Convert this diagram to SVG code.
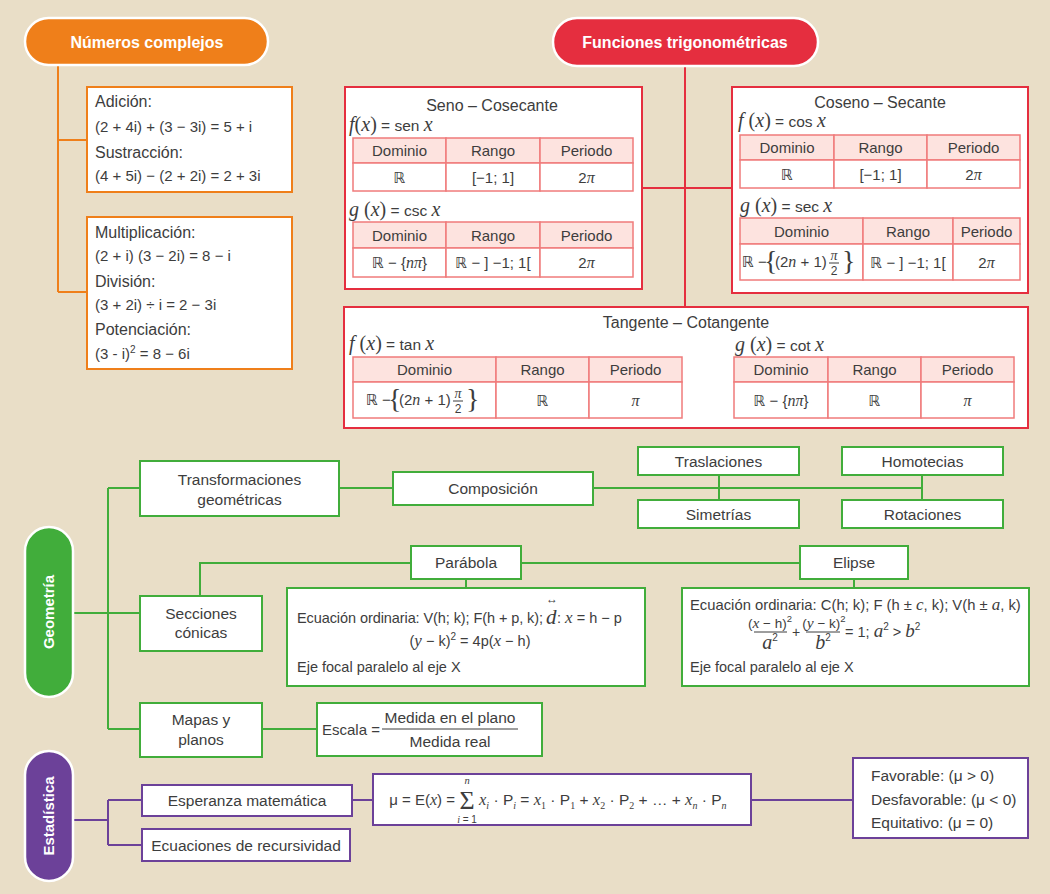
<svg xmlns="http://www.w3.org/2000/svg" xmlns:xlink="http://www.w3.org/1999/xlink" width="1050" height="894" viewBox="0 0 1050 894">
  <style>
    svg{font-size:15.5px}
    .t{font-family:"Liberation Sans",Arial,"DejaVu Sans",sans-serif;fill:#3d3d3d}
    .f{font-size:15px}
    .s{font-size:14.5px}
    .m{font-family:"Liberation Serif","Times New Roman",serif;font-style:italic}
    .r{font-family:"Liberation Serif","Times New Roman",serif}
    .c{text-anchor:middle}
    .pt{font-family:"Liberation Sans",Arial,sans-serif;font-weight:bold;fill:#fff;text-anchor:middle}
    .ob{fill:#fff;stroke:#ef7f1a;stroke-width:2}
    .rb{fill:#fff;stroke:#e52e3f;stroke-width:2}
    .gb{fill:#fff;stroke:#41ad3b;stroke-width:2}
    .vb{fill:#fff;stroke:#6c4199;stroke-width:2}
    .th{fill:#fde3df;stroke:#f07b7b;stroke-width:1.5}
    .td{fill:#fff;stroke:#f07b7b;stroke-width:1.5}
    .brace{font-family:"Liberation Serif","Times New Roman",serif;font-size:28px;fill:#3d3d3d}
    .lo{stroke:#ef7f1a;stroke-width:2;fill:none}
    .lr{stroke:#e52e3f;stroke-width:2;fill:none}
    .lg{stroke:#41ad3b;stroke-width:2;fill:none}
    .lv{stroke:#6c4199;stroke-width:2;fill:none}
    .bar{stroke:#3d3d3d;stroke-width:1;fill:none}
  </style>
  <defs>
    <!-- ℝ − {(2n + 1) π/2}, anchored at left edge / vertical centre -->
    <g id="odd-half-pi">
      <text x="0" y="5" class="t f">ℝ −</text>
      <text x="22" y="8" class="brace">{</text>
      <text x="33" y="5" class="t f">(2<tspan class="m" font-size="16">n</tspan> + 1)</text>
      <text x="92" y="-2" class="t m c" font-size="14">π</text>
      <line x1="87" y1="1" x2="97" y2="1" class="bar"/>
      <text x="92" y="13" class="t c" font-size="12">2</text>
      <text x="100" y="8" class="brace">}</text>
    </g>
  </defs>

  <rect width="1050" height="894" fill="#e9dec7"/>

  <!-- connectors -->
  <g id="connectors">
    <path class="lo" d="M58 65 V292 M58 140 H87 M58 292 H87"/>
    <path class="lr" d="M685 66 V307 M642 188 H732"/>
    <path class="lg" d="M73 613 H108 M108 488 V729 M108 488 H140 M108 613 H140 M108 729 H140 M339 488 H393 M593 488 H922 M719 475 V500 M922 475 V500 M200 596 V563 H411 M521 563 H800 M466 579 V588 M854 579 V588 M262 729 H317"/>
    <path class="lv" d="M73 820 H108 M108 800 V845 M108 800 H142 M108 845 H142 M352 800 H373 M751 800 H853"/>
  </g>

  <!-- Números complejos -->
  <g id="numeros-complejos">
    <rect x="25" y="18" width="243" height="47" rx="23.5" fill="#ef7f1a" stroke="#fff" stroke-width="2.5"/>
    <text x="147" y="48" class="pt" font-size="16">Números complejos</text>
  </g>
  <g id="suma-resta">
    <rect x="87" y="87" width="205" height="105" class="ob"/>
    <text x="95" y="107" class="t" font-size="16">Adición:</text>
    <text x="95" y="132" class="t f">(2 + 4i) + (3 − 3i) = 5 + i</text>
    <text x="95" y="158" class="t" font-size="16">Sustracción:</text>
    <text x="95" y="181" class="t f">(4 + 5i) − (2 + 2i) = 2 + 3i</text>
  </g>
  <g id="producto-division">
    <rect x="87" y="217" width="205" height="152" class="ob"/>
    <text x="95" y="238" class="t" font-size="16">Multiplicación:</text>
    <text x="95" y="261" class="t f">(2 + i) (3 − 2i) = 8 − i</text>
    <text x="95" y="287" class="t" font-size="16">División:</text>
    <text x="95" y="310" class="t f">(3 + 2i) ÷ i = 2 − 3i</text>
    <text x="95" y="335" class="t" font-size="16">Potenciación:</text>
    <text x="95" y="359" class="t f">(3 - i)<tspan dy="-6" font-size="10">2</tspan><tspan dy="6"> = 8 − 6i</tspan></text>
  </g>

  <!-- Funciones trigonométricas -->
  <g id="funciones-trigonometricas">
    <rect x="553" y="18" width="265" height="48" rx="24" fill="#e52e3f" stroke="#fff" stroke-width="2.5"/>
    <text x="685" y="48" class="pt" font-size="16">Funciones trigonométricas</text>
  </g>

  <g id="seno-cosecante">
    <rect x="345" y="87" width="297" height="202" class="rb"/>
    <text x="492" y="110.5" class="t c" font-size="16">Seno – Cosecante</text>
    <text x="349" y="131" class="t"><tspan class="m" font-size="20">f</tspan><tspan class="r" font-size="20">(</tspan><tspan class="m" font-size="20">x</tspan><tspan class="r" font-size="20">)</tspan> = sen <tspan class="m" font-size="20">x</tspan></text>
    <rect x="353" y="138" width="93" height="25" class="th"/>
    <rect x="446" y="138" width="94" height="25" class="th"/>
    <rect x="540" y="138" width="93" height="25" class="th"/>
    <rect x="353" y="163" width="93" height="28" class="td"/>
    <rect x="446" y="163" width="94" height="28" class="td"/>
    <rect x="540" y="163" width="93" height="28" class="td"/>
    <text x="399.5" y="156" class="t f c">Dominio</text>
    <text x="493" y="156" class="t f c">Rango</text>
    <text x="586.5" y="156" class="t f c">Periodo</text>
    <text x="399.5" y="182.5" class="t f c">ℝ</text>
    <text x="493" y="182.5" class="t f c">[−1; 1]</text>
    <text x="586.5" y="182.5" class="t f c">2<tspan class="m" font-size="16">π</tspan></text>
    <text x="349" y="216" class="t"><tspan class="m" font-size="20">g</tspan><tspan class="r" font-size="20"> (</tspan><tspan class="m" font-size="20">x</tspan><tspan class="r" font-size="20">)</tspan> = csc <tspan class="m" font-size="20">x</tspan></text>
    <rect x="353" y="222" width="93" height="26" class="th"/>
    <rect x="446" y="222" width="94" height="26" class="th"/>
    <rect x="540" y="222" width="93" height="26" class="th"/>
    <rect x="353" y="248" width="93" height="29" class="td"/>
    <rect x="446" y="248" width="94" height="29" class="td"/>
    <rect x="540" y="248" width="93" height="29" class="td"/>
    <text x="399.5" y="240.5" class="t f c">Dominio</text>
    <text x="493" y="240.5" class="t f c">Rango</text>
    <text x="586.5" y="240.5" class="t f c">Periodo</text>
    <text x="399.5" y="268" class="t f c">ℝ − {<tspan class="m" font-size="16">nπ</tspan>}</text>
    <text x="493" y="268" class="t f c">ℝ − ] −1; 1[</text>
    <text x="586.5" y="268" class="t f c">2<tspan class="m" font-size="16">π</tspan></text>
  </g>

  <g id="coseno-secante">
    <rect x="732" y="87" width="296" height="206" class="rb"/>
    <text x="880" y="107.5" class="t c" font-size="16">Coseno – Secante</text>
    <text x="738" y="127" class="t"><tspan class="m" font-size="20">f</tspan><tspan class="r" font-size="20"> (</tspan><tspan class="m" font-size="20">x</tspan><tspan class="r" font-size="20">)</tspan> = cos <tspan class="m" font-size="20">x</tspan></text>
    <rect x="740" y="135" width="94" height="25" class="th"/>
    <rect x="834" y="135" width="93" height="25" class="th"/>
    <rect x="927" y="135" width="93" height="25" class="th"/>
    <rect x="740" y="160" width="94" height="28" class="td"/>
    <rect x="834" y="160" width="93" height="28" class="td"/>
    <rect x="927" y="160" width="93" height="28" class="td"/>
    <text x="787" y="153" class="t f c">Dominio</text>
    <text x="880.5" y="153" class="t f c">Rango</text>
    <text x="973.5" y="153" class="t f c">Periodo</text>
    <text x="787" y="179.5" class="t f c">ℝ</text>
    <text x="880.5" y="179.5" class="t f c">[−1; 1]</text>
    <text x="973.5" y="179.5" class="t f c">2<tspan class="m" font-size="16">π</tspan></text>
    <text x="740" y="212" class="t"><tspan class="m" font-size="20">g</tspan><tspan class="r" font-size="20"> (</tspan><tspan class="m" font-size="20">x</tspan><tspan class="r" font-size="20">)</tspan> = sec <tspan class="m" font-size="20">x</tspan></text>
    <rect x="740" y="218" width="123" height="26" class="th"/>
    <rect x="863" y="218" width="90" height="26" class="th"/>
    <rect x="953" y="218" width="67" height="26" class="th"/>
    <rect x="740" y="244" width="123" height="36" class="td"/>
    <rect x="863" y="244" width="90" height="36" class="td"/>
    <rect x="953" y="244" width="67" height="36" class="td"/>
    <text x="801.5" y="236.5" class="t f c">Dominio</text>
    <text x="908" y="236.5" class="t f c">Rango</text>
    <text x="986.5" y="236.5" class="t f c">Periodo</text>
    <use xlink:href="#odd-half-pi" transform="translate(742 262)"/>
    <text x="908" y="267.5" class="t f c">ℝ − ] −1; 1[</text>
    <text x="986.5" y="267.5" class="t f c">2<tspan class="m" font-size="16">π</tspan></text>
  </g>

  <g id="tangente-cotangente">
    <rect x="344" y="307" width="684" height="121" class="rb"/>
    <text x="686" y="327.5" class="t c" font-size="16">Tangente – Cotangente</text>
    <text x="349" y="350" class="t"><tspan class="m" font-size="20">f</tspan><tspan class="r" font-size="20"> (</tspan><tspan class="m" font-size="20">x</tspan><tspan class="r" font-size="20">)</tspan> = tan <tspan class="m" font-size="20">x</tspan></text>
    <rect x="353" y="357" width="143" height="25" class="th"/>
    <rect x="496" y="357" width="93" height="25" class="th"/>
    <rect x="589" y="357" width="93" height="25" class="th"/>
    <rect x="353" y="382" width="143" height="36" class="td"/>
    <rect x="496" y="382" width="93" height="36" class="td"/>
    <rect x="589" y="382" width="93" height="36" class="td"/>
    <text x="424.5" y="375" class="t f c">Dominio</text>
    <text x="542.5" y="375" class="t f c">Rango</text>
    <text x="635.5" y="375" class="t f c">Periodo</text>
    <use xlink:href="#odd-half-pi" transform="translate(366 400)"/>
    <text x="542.5" y="405.5" class="t f c">ℝ</text>
    <text x="635.5" y="405.5" class="t c m" font-size="16">π</text>
    <text x="735" y="351" class="t"><tspan class="m" font-size="20">g</tspan><tspan class="r" font-size="20"> (</tspan><tspan class="m" font-size="20">x</tspan><tspan class="r" font-size="20">)</tspan> = cot <tspan class="m" font-size="20">x</tspan></text>
    <rect x="734" y="357" width="94" height="25" class="th"/>
    <rect x="828" y="357" width="93" height="25" class="th"/>
    <rect x="921" y="357" width="93" height="25" class="th"/>
    <rect x="734" y="382" width="94" height="36" class="td"/>
    <rect x="828" y="382" width="93" height="36" class="td"/>
    <rect x="921" y="382" width="93" height="36" class="td"/>
    <text x="781" y="375" class="t f c">Dominio</text>
    <text x="874.5" y="375" class="t f c">Rango</text>
    <text x="967.5" y="375" class="t f c">Periodo</text>
    <text x="781" y="405.5" class="t f c">ℝ − {<tspan class="m" font-size="16">nπ</tspan>}</text>
    <text x="874.5" y="405.5" class="t f c">ℝ</text>
    <text x="967.5" y="405.5" class="t c m" font-size="16">π</text>
  </g>

  <!-- Geometría -->
  <g id="geometria">
    <rect x="25" y="527" width="48" height="170" rx="24" fill="#41ad3b" stroke="#fff" stroke-width="2.5"/>
    <text x="49" y="612" class="pt" font-size="15" transform="rotate(-90 49 612)" dy="5">Geometría</text>
  </g>
  <g id="transformaciones">
    <rect x="140" y="461" width="199" height="55" class="gb"/>
    <text x="239.5" y="484.5" class="t c">Transformaciones</text>
    <text x="239.5" y="504.5" class="t c">geométricas</text>
  </g>
  <g id="composicion">
    <rect x="393" y="472" width="200" height="33" class="gb"/>
    <text x="493" y="494" class="t c">Composición</text>
  </g>
  <g id="traslaciones">
    <rect x="638" y="447" width="161" height="28" class="gb"/>
    <text x="718.5" y="466.5" class="t c">Traslaciones</text>
  </g>
  <g id="homotecias">
    <rect x="842" y="447" width="161" height="28" class="gb"/>
    <text x="922.5" y="466.5" class="t c">Homotecias</text>
  </g>
  <g id="simetrias">
    <rect x="638" y="500" width="161" height="28" class="gb"/>
    <text x="718.5" y="519.5" class="t c">Simetrías</text>
  </g>
  <g id="rotaciones">
    <rect x="842" y="500" width="161" height="28" class="gb"/>
    <text x="922.5" y="519.5" class="t c">Rotaciones</text>
  </g>
  <g id="secciones-conicas">
    <rect x="140" y="596" width="122" height="55" class="gb"/>
    <text x="201" y="618.5" class="t c">Secciones</text>
    <text x="201" y="638" class="t c">cónicas</text>
  </g>
  <g id="parabola">
    <rect x="411" y="546" width="110" height="33" class="gb"/>
    <text x="466" y="568" class="t c">Parábola</text>
  </g>
  <g id="parabola-ecuacion">
    <rect x="287" y="588" width="358" height="98" class="gb"/>
    <text x="297" y="623" class="t s" textLength="246" lengthAdjust="spacing">Ecuación ordinaria: V(h; k); F(h + p, k);</text>
    <text x="546" y="624" class="t m" font-size="21">d</text>
    <text x="552" y="602.5" class="t c" font-size="12">↔</text>
    <text x="557" y="623" class="t s">: <tspan class="m" font-size="17">x</tspan> = h − p</text>
    <text x="470" y="646" class="t s c">(<tspan class="m" font-size="17">y</tspan> − k)<tspan dy="-6" font-size="10">2</tspan><tspan dy="6"> = 4p(</tspan><tspan class="m" font-size="17">x</tspan> − h)</text>
    <text x="297" y="671.5" class="t s">Eje focal paralelo al eje X</text>
  </g>
  <g id="elipse">
    <rect x="800" y="546" width="108" height="33" class="gb"/>
    <text x="854" y="568" class="t c">Elipse</text>
  </g>
  <g id="elipse-ecuacion">
    <rect x="682" y="588" width="347" height="98" class="gb"/>
    <text x="690" y="610" class="t" font-size="14.8">Ecuación ordinaria: C(h; k); F (h ± <tspan class="m" font-size="17">c</tspan>, k); V(h ± <tspan class="m" font-size="17">a</tspan>, k)</text>
    <text x="770" y="628" class="t c" font-size="13.5">(<tspan class="m" font-size="15.5">x</tspan> − h)<tspan dy="-6" font-size="9.5">2</tspan></text>
    <line x1="754" y1="632" x2="787" y2="632" class="bar"/>
    <text x="770" y="649" class="t c"><tspan class="m" font-size="20">a</tspan><tspan dy="-8" font-size="10">2</tspan></text>
    <text x="796" y="637" class="t c" font-size="14">+</text>
    <text x="824" y="628" class="t c" font-size="13.5">(<tspan class="m" font-size="15.5">y</tspan> − k)<tspan dy="-6" font-size="9.5">2</tspan></text>
    <line x1="806" y1="632" x2="840" y2="632" class="bar"/>
    <text x="823" y="649" class="t c"><tspan class="m" font-size="20">b</tspan><tspan dy="-8" font-size="10">2</tspan></text>
    <text x="845" y="637" class="t s">= 1; <tspan class="m" font-size="19">a</tspan><tspan dy="-7" font-size="10">2</tspan><tspan dy="7"> &gt; </tspan><tspan class="m" font-size="19">b</tspan><tspan dy="-7" font-size="10">2</tspan></text>
    <text x="690" y="672" class="t s">Eje focal paralelo al eje X</text>
  </g>
  <g id="mapas-planos">
    <rect x="140" y="703" width="122" height="54" class="gb"/>
    <text x="201" y="724.5" class="t c">Mapas y</text>
    <text x="201" y="744.5" class="t c">planos</text>
  </g>
  <g id="escala">
    <rect x="317" y="703" width="225" height="53" class="gb"/>
    <text x="322" y="734.5" class="t" font-size="15">Escala =</text>
    <text x="450" y="723" class="t c">Medida en el plano</text>
    <line x1="382" y1="729" x2="518" y2="729" class="bar"/>
    <text x="450" y="747" class="t c">Medida real</text>
  </g>

  <!-- Estadística -->
  <g id="estadistica">
    <rect x="25" y="751" width="48" height="130" rx="24" fill="#6c4199" stroke="#fff" stroke-width="2.5"/>
    <text x="49" y="816" class="pt" font-size="15" transform="rotate(-90 49 816)" dy="5">Estadística</text>
  </g>
  <g id="esperanza">
    <rect x="142" y="785" width="210" height="31" class="vb"/>
    <text x="247" y="806" class="t c">Esperanza matemática</text>
  </g>
  <g id="recursividad">
    <rect x="142" y="829" width="208" height="32" class="vb"/>
    <text x="246" y="850.5" class="t c">Ecuaciones de recursividad</text>
  </g>
  <g id="esperanza-formula">
    <rect x="373" y="774" width="378" height="51" class="vb"/>
    <text x="455" y="805" class="t f" text-anchor="end">μ = E(<tspan class="m" font-size="16">x</tspan>) =</text>
    <text x="467" y="808.5" class="r c" font-size="26" fill="#3d3d3d">Σ</text>
    <text x="467" y="784" class="t m c" font-size="10.5">n</text>
    <text x="467" y="822.5" class="t c" font-size="10"><tspan class="m">i</tspan> = 1</text>
    <text x="479" y="805" class="t"><tspan class="m" font-size="16.5">x</tspan><tspan class="m" font-size="10" dy="4">i</tspan><tspan dy="-4"> · P</tspan><tspan class="m" font-size="10" dy="4">i</tspan><tspan dy="-4"> = </tspan><tspan class="m" font-size="16.5">x</tspan><tspan class="r" font-size="10" dy="4">1</tspan><tspan dy="-4"> · P</tspan><tspan class="r" font-size="10" dy="4">1</tspan><tspan dy="-4"> + </tspan><tspan class="m" font-size="16.5">x</tspan><tspan class="r" font-size="10" dy="4">2</tspan><tspan dy="-4"> · P</tspan><tspan class="r" font-size="10" dy="4">2</tspan><tspan dy="-4"> + … + </tspan><tspan class="m" font-size="16.5">x</tspan><tspan class="m" font-size="10" dy="4">n</tspan><tspan dy="-4"> · P</tspan><tspan class="m" font-size="10" dy="4">n</tspan></text>
  </g>
  <g id="tipos-juego">
    <rect x="853" y="758" width="175" height="80" class="vb"/>
    <text x="871" y="780.5" class="t">Favorable: (μ &gt; 0)</text>
    <text x="871" y="805" class="t">Desfavorable: (μ &lt; 0)</text>
    <text x="871" y="828" class="t">Equitativo: (μ = 0)</text>
  </g>
</svg>
